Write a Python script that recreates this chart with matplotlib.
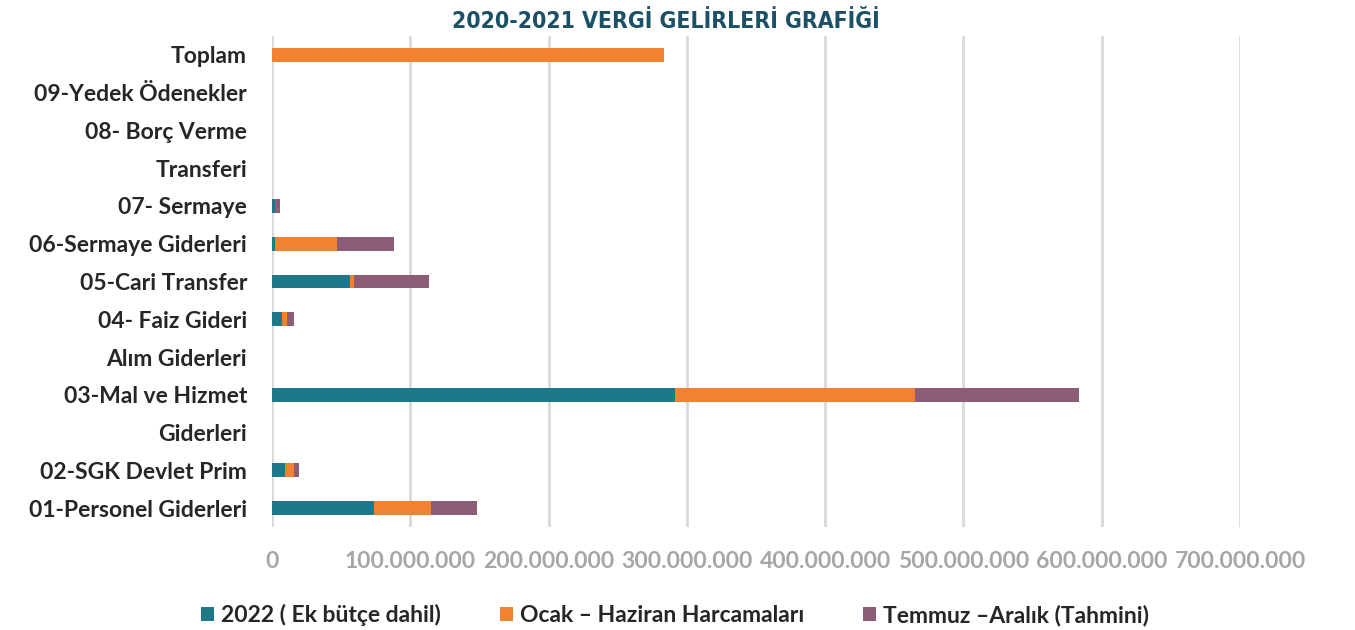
import matplotlib.pyplot as plt
from matplotlib.ticker import FuncFormatter

plt.rcParams['font.family'] = ['Lato', 'DejaVu Sans']

# rows from bottom to top (wrapped labels take their own row)
labels = ["01-Personel Giderleri", "02-SGK Devlet Prim", "Giderleri", "03-Mal ve Hizmet",
          "Alım Giderleri", "04- Faiz Gideri", "05-Cari Transfer", "06-Sermaye Giderleri",
          "07- Sermaye", "Transferi", "08- Borç Verme", "09-Yedek Ödenekler", "Toplam"]

# values in TL
butce_2022 = [73.7e6, 9.2e6, 0, 291.4e6, 0, 7.4e6, 56.2e6, 2.2e6, 2.2e6, 0, 0, 0, 0]
ocak_haziran = [41.2e6, 6.7e6, 0, 173.5e6, 0, 3.2e6, 3.3e6, 44.8e6, 0, 0, 0, 0, 283.5e6]
temmuz_aralik = [33.3e6, 3.8e6, 0, 118.6e6, 0, 5.5e6, 53.7e6, 41.2e6, 3.6e6, 0, 0, 0, 0]

series_names = ["2022 ( Ek bütçe dahil)", "Ocak – Haziran Harcamaları", "Temmuz –Aralık (Tahmini)"]
colors = ["#1D7888", "#F08232", "#8D5D78"]

fig = plt.figure(figsize=(13.55, 6.3), dpi=100)
ax = fig.add_axes([272 / 1355, 1 - 527 / 630, (1240 - 272) / 1355, (527 - 36) / 630])

y = list(range(len(labels)))
left = [0] * len(labels)
for vals, name, c in zip([butce_2022, ocak_haziran, temmuz_aralik], series_names, colors):
    ax.barh(y, vals, left=left, height=0.37, color=c, label=name, zorder=3)
    left = [a + b for a, b in zip(left, vals)]

ax.set_xlim(0, 700e6)
ax.set_ylim(-0.5, len(labels) - 0.5)
ax.set_xticks([i * 100e6 for i in range(8)])
ax.xaxis.set_major_formatter(FuncFormatter(
    lambda v, p: "0" if v == 0 else f"{int(v):,}".replace(",", ".")))
ax.set_yticks(y)
ax.set_yticklabels(labels, fontsize=16.5, fontweight='bold', color='#262626')
for t in ax.get_xticklabels():
    t.set_fontsize(16.5)
    t.set_fontweight('bold')
    t.set_color('#A6A6A6')
ax.tick_params(axis='both', length=0)
ax.tick_params(axis='x', pad=17)
ax.tick_params(axis='y', pad=18)
ax.grid(axis='x', color='#D9D9D9', linewidth=2, zorder=0)
for s in ax.spines.values():
    s.set_visible(False)

fig.text(0.5 * (477 + 855) / 1355, 1 - 22 / 630, "2020-2021 VERGİ GELİRLERİ GRAFİĞİ",
         ha='center', va='center', fontsize=16.5, fontweight='bold', fontstretch='condensed',
         color='#1B5066', family=['DejaVu Sans'])

leg = fig.legend(loc='center', bbox_to_anchor=(0.5 * (195 + 1155) / 1355, 1 - 615 / 630), ncol=3,
                 frameon=False, prop={'size': 16.5, 'weight': 'bold'}, handlelength=0.55,
                 handleheight=0.55, handletextpad=0.3, columnspacing=2.6)
for t in leg.get_texts():
    t.set_color('#262626')

fig.savefig("out.png", dpi=100)
